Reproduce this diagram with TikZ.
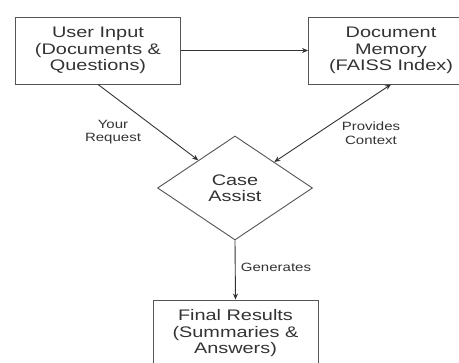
\documentclass[tikz,border=0pt]{standalone}
\usepackage{fontspec}
\newfontfamily\boxfont[FakeStretch=1.3]{Liberation Sans}
\newfontfamily\lblfont[FakeStretch=1.25]{Liberation Sans}
\usetikzlibrary{shapes.geometric,arrows.meta}
\definecolor{ink}{HTML}{333333}
\definecolor{edge}{HTML}{555555}
\begin{document}
\begin{tikzpicture}[x=1pt,y=-1pt,
  box/.style={draw=edge,line width=0.9pt,minimum width=165pt,minimum height=67pt,inner sep=0pt,align=center,text=ink,font=\boxfont\fontsize{15.3}{16.5}\selectfont},
  dia/.style={draw=edge,line width=0.9pt,diamond,minimum width=155pt,minimum height=104pt,inner sep=0pt,align=center,text=ink,font=\boxfont\fontsize{15.3}{16.5}\selectfont},
  lbl/.style={align=center,text=ink,inner sep=0pt,font=\lblfont\fontsize{12}{13.5}\selectfont},
  conn/.style={draw=ink,line width=0.9pt,-{Stealth[length=6pt,width=5pt]}},
  conn2/.style={draw=ink,line width=0.9pt,{Stealth[length=6pt,width=5pt]}-{Stealth[length=6pt,width=5pt]}}]
\useasboundingbox (0,0) rectangle (459,363);
\clip (0,0) rectangle (459,363);
\fill[white] (0,0) rectangle (459,363);
\node[box] (ui) at (98,50.5) {User Input\\(Documents \&\\Questions)};
\node[box] (dm) at (391,50.5) {Document\\Memory\\(FAISS Index)};
\node[dia] (cas) at (235,188) {Case\\Assist};
\node[box] (fr) at (235.5,333.5) {Final Results\\(Summaries \&\\Answers)};
\draw[conn] (ui.east) -- (dm.west);
\draw[conn] (ui.south) -- (cas);
\draw[conn2] (dm.south) -- (cas);
\draw[conn] (cas.south) -- (fr.north);
\node[lbl] (l1) at (113,132) {Your\\Request};
\node[lbl] (l2) at (371,133) {Provides\\Context};
\node[lbl] (l3) at (276,267) {Generates};
\end{tikzpicture}
\end{document}
